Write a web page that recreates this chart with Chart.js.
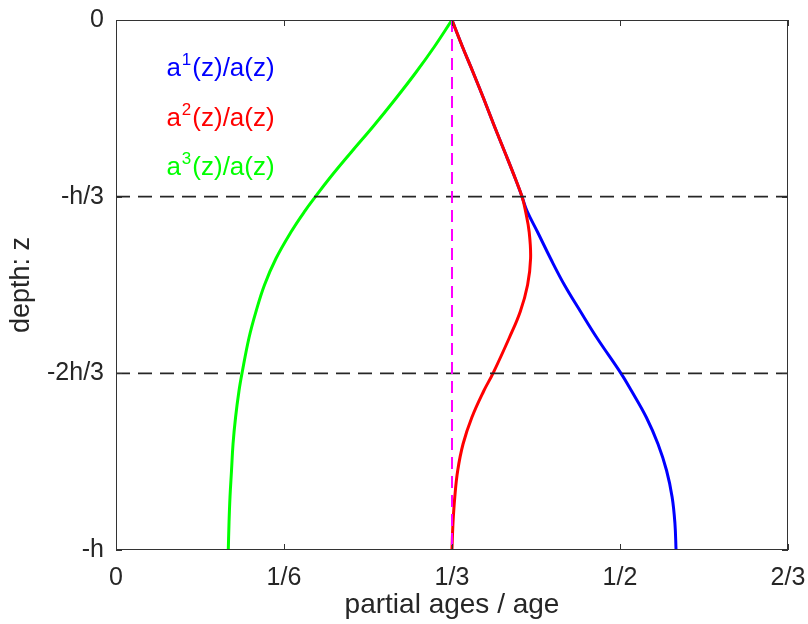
<!DOCTYPE html>
<html>
<head>
<meta charset="utf-8">
<script src="https://cdn.jsdelivr.net/npm/chart.js@4.4.0/dist/chart.umd.min.js"></script>
<style>
    html, body { margin: 0; padding: 0; background: #fff; }
    #wrap { width: 808px; height: 624px; }
</style>
</head>
<body>
<div id="wrap"><canvas id="ageChart" width="808" height="624"></canvas></div>
<script>
// depth z, with h = 1 (shared by the three curves)
const depth = [0, -0.05, -0.1, -0.15, -0.2, -0.25, -0.3, -1/3, -0.36, -0.4, -0.45,
    -0.5, -0.55, -0.6, -2/3, -0.7, -0.75, -0.8, -0.85, -0.9, -0.95, -1];
// a1(z)/a(z), a2(z)/a(z), a3(z)/a(z)
const ratio1 = [0.3333, 0.3436, 0.3545, 0.3651, 0.3753, 0.3859, 0.3963, 0.4028, 0.4077, 0.4182, 0.4311,
    0.4449, 0.4608, 0.4772, 0.5010, 0.5115, 0.5262, 0.5377, 0.5462, 0.5517, 0.5545, 0.5556];
const ratio2 = [0.3333, 0.3436, 0.3545, 0.3651, 0.3753, 0.3859, 0.3963, 0.4028, 0.4062, 0.4099, 0.4113,
    0.4083, 0.4011, 0.3901, 0.3740, 0.3648, 0.3530, 0.3443, 0.3390, 0.3361, 0.3343, 0.3333];
const ratio3 = [0.3333, 0.3160, 0.2971, 0.2768, 0.2555, 0.2331, 0.2113, 0.1979, 0.1875, 0.1736, 0.1587,
    0.1473, 0.1389, 0.1319, 0.1250, 0.1220, 0.1186, 0.1161, 0.1146, 0.1131, 0.1121, 0.1114];

const seriesSup = ["1", "2", "3"];
const seriesColors = ["#0000ff", "#ff0000", "#00ff00"];

// layer interfaces and the 1/3 reference
const layerDepths = [-1/3, -2/3];
const equalShare = 1/3;

const xTickValues = [0, 1/6, 1/3, 1/2, 2/3];
const xTickLabels = ["0", "1/6", "1/3", "1/2", "2/3"];
const yTickValues = [-1, -2/3, -1/3, 0];
const yTickLabels = ["-h", "-2h/3", "-h/3", "0"];

const FONT = "'Liberation Sans', Arial, Helvetica, sans-serif";
const TEXT = "#262626";

function toPoints(xs) {
    return depth.map((z, i) => ({ x: xs[i], y: z }));
}

function drawText(ctx, text, x, y, size, align, baseline, rotate) {
    ctx.save();
    ctx.translate(x, y);
    if (rotate) ctx.rotate(-Math.PI / 2);
    ctx.font = size + "px " + FONT;
    ctx.textAlign = align;
    ctx.textBaseline = baseline;
    ctx.fillText(text, 0, 0);
    ctx.restore();
}

// 盒子边框 + 向内刻度 + 刻度文字 (MATLAB 风格)
const axesPlugin = {
    id: "axesPlugin",
    afterDraw(chart) {
        const { ctx, chartArea: a, scales } = chart;
        ctx.save();
        ctx.strokeStyle = "#333";
        ctx.lineWidth = 1;
        ctx.strokeRect(a.left + 0.5, a.top + 0.5, a.right - a.left - 1, a.bottom - a.top - 1);
        ctx.beginPath();
        xTickValues.forEach((v) => {
            const x = Math.round(scales.x.getPixelForValue(v)) + 0.5;
            ctx.moveTo(x, a.bottom); ctx.lineTo(x, a.bottom - 6);
            ctx.moveTo(x, a.top); ctx.lineTo(x, a.top + 6);
        });
        yTickValues.forEach((v) => {
            const y = Math.round(scales.y.getPixelForValue(v)) + 0.5;
            ctx.moveTo(a.left, y); ctx.lineTo(a.left + 6, y);
            ctx.moveTo(a.right, y); ctx.lineTo(a.right - 6, y);
        });
        ctx.stroke();

        ctx.fillStyle = TEXT;
        xTickValues.forEach((v, i) => {
            drawText(ctx, xTickLabels[i], scales.x.getPixelForValue(v), a.bottom + 28, 25, "center", "middle");
        });
        yTickValues.forEach((v, i) => {
            drawText(ctx, yTickLabels[i], a.left - 12, scales.y.getPixelForValue(v), 25, "right", "middle");
        });
        drawText(ctx, "partial ages / age", (a.left + a.right) / 2, a.bottom + 55, 28, "center", "middle");
        drawText(ctx, "depth: z", 22, (a.top + a.bottom) / 2, 27, "center", "middle", true);
        ctx.restore();
    },
};

// 曲线说明文字 a^k(z)/a(z)
const labelPlugin = {
    id: "labelPlugin",
    afterDraw(chart) {
        const { ctx, scales } = chart;
        const anchorX = 0.05;
        const anchorY = [-0.105, -0.2, -0.293];
        seriesSup.forEach((sup, i) => {
            ctx.save();
            ctx.translate(scales.x.getPixelForValue(anchorX), scales.y.getPixelForValue(anchorY[i]));
            ctx.textBaseline = "alphabetic";
            ctx.fillStyle = seriesColors[i];
            let x = 0;
            ctx.font = "26px " + FONT;
            ctx.fillText("a", x, 0);
            x += ctx.measureText("a").width + 1;
            ctx.font = "17px " + FONT;
            ctx.fillText(sup, x, -11);
            x += ctx.measureText(sup).width + 1;
            ctx.font = "26px " + FONT;
            ctx.fillText("(z)/a(z)", x, 0);
            ctx.restore();
        });
    },
};

const curve = (data, color, order) => ({
    data: toPoints(data),
    showLine: true,
    borderColor: color,
    borderWidth: 3,
    pointRadius: 0,
    tension: 0.4,
    fill: false,
    order: order,
});

const dashed = (points, color, dash, width, order) => ({
    data: points,
    showLine: true,
    borderColor: color,
    borderWidth: width,
    borderDash: dash,
    pointRadius: 0,
    tension: 0,
    fill: false,
    order: order,
});

new Chart(document.getElementById("ageChart").getContext("2d"), {
    type: "scatter",
    data: {
        datasets: [
            curve(ratio1, seriesColors[0], 6),
            curve(ratio2, seriesColors[1], 5),
            curve(ratio3, seriesColors[2], 4),
            dashed([{ x: 0, y: layerDepths[0] }, { x: 2/3, y: layerDepths[0] }], "#262626", [14, 8], 1.6, 2),
            dashed([{ x: 0, y: layerDepths[1] }, { x: 2/3, y: layerDepths[1] }], "#262626", [14, 8], 1.6, 2),
            dashed([{ x: equalShare, y: 0 }, { x: equalShare, y: -1 }], "#ff00ff", [12, 7], 2, 1),
        ],
    },
    options: {
        responsive: false,
        animation: false,
        layout: { padding: { top: 20, right: 20, left: 0, bottom: 0 } },
        plugins: {
            legend: { display: false },
            tooltip: { enabled: false },
        },
        scales: {
            x: {
                type: "linear",
                min: 0,
                max: 2/3,
                afterBuildTicks: (s) => { s.ticks = xTickValues.map((v) => ({ value: v })); },
                afterFit: (s) => {
                    s.height = 74;
                    s.paddingLeft = 0;
                    s.paddingRight = 0;
                },
                ticks: { display: false },
                grid: { display: false, drawTicks: false },
                border: { display: false },
            },
            y: {
                type: "linear",
                min: -1,
                max: 0,
                afterBuildTicks: (s) => { s.ticks = yTickValues.map((v) => ({ value: v })); },
                afterFit: (s) => {
                    s.width = 116;
                    s.paddingTop = 0;
                    s.paddingBottom = 0;
                },
                ticks: { display: false },
                grid: { display: false, drawTicks: false },
                border: { display: false },
            },
        },
    },
    plugins: [axesPlugin, labelPlugin],
});
</script>
</body>
</html>
